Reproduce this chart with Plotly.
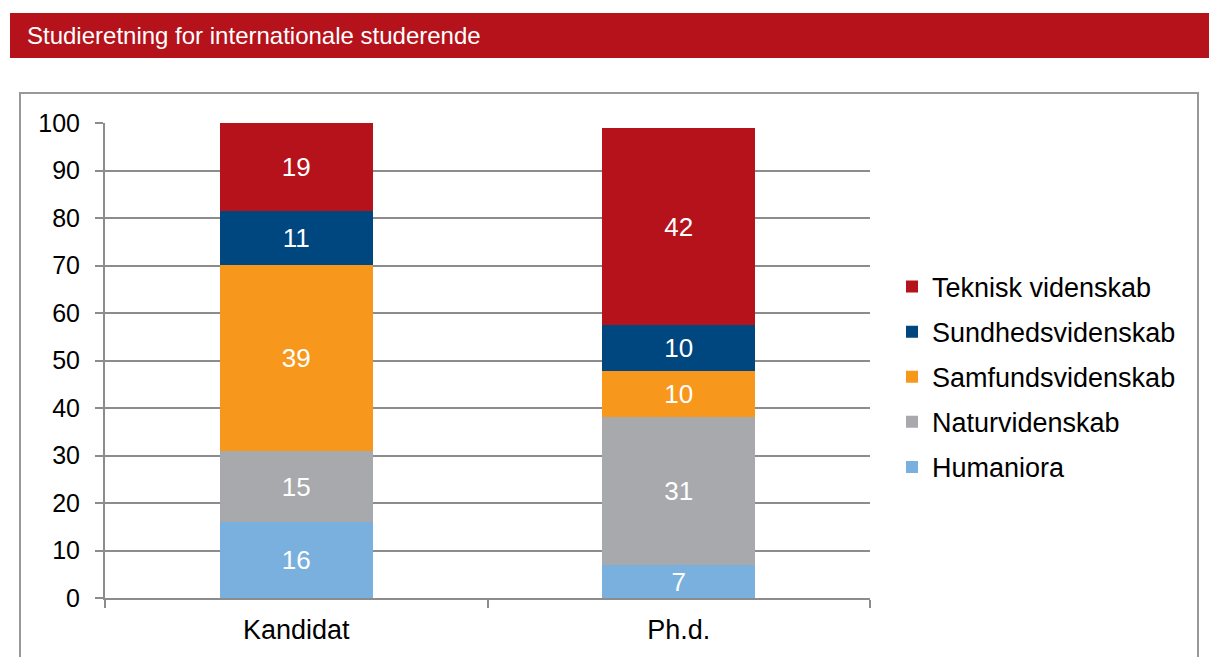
import plotly.graph_objects as go

categories = ["Kandidat", "Ph.d."]
series_names = ["Humaniora", "Naturvidenskab", "Samfundsvidenskab", "Sundhedsvidenskab", "Teknisk videnskab"]
humaniora = [16.0, 6.9]
naturvidenskab = [14.9, 31.3]
samfundsvidenskab = [39.3, 9.6]
sundhedsvidenskab = [11.2, 9.6]
teknisk = [18.6, 41.6]
series_values = [humaniora, naturvidenskab, samfundsvidenskab, sundhedsvidenskab, teknisk]
colors = ["#7AB0DD", "#A7A9AC", "#F7981D", "#00467F", "#B5121B"]
y_ticks = [0, 10, 20, 30, 40, 50, 60, 70, 80, 90, 100]
title_text = "Studieretning for internationale studerende"

W, H = 1209, 657
L, R, T, B = 105, 870, 123, 598
FONT = "Liberation Sans, Arial, sans-serif"


def px(x):
    return (x - L) / (R - L)


def py(y):
    return (B - y) / (B - T)


fig = go.Figure()
for i, (name, vals, col) in enumerate(zip(series_names, series_values, colors)):
    fig.add_trace(go.Bar(
        x=categories, y=vals, name=name, legendgroup=name,
        legendrank=len(series_names) - i,
        marker=dict(color=col, line=dict(width=0)),
        texttemplate="%{y:.0f}", textposition="inside", textangle=0,
        insidetextanchor="middle", constraintext="none",
        textfont=dict(color="white", size=26, family=FONT),
        hoverinfo="skip",
    ))

fig.update_layout(
    width=W, height=H,
    margin=dict(l=L, r=W - R, t=T, b=H - B, pad=0),
    barmode="stack", bargap=0.6,
    paper_bgcolor="white", plot_bgcolor="white",
    font=dict(family=FONT, size=25, color="black"),
    showlegend=True,
    legend=dict(
        x=px(892), y=py(377), xanchor="left", yanchor="middle",
        traceorder="grouped", tracegroupgap=7,
        font=dict(size=27, family=FONT, color="black"),
        bgcolor="rgba(0,0,0,0)", borderwidth=0,
    ),
    xaxis=dict(
        type="category", tickson="boundaries", ticks="outside", ticklen=8,
        tickcolor="#8c8c8c", tickwidth=2, showline=True, linecolor="#8c8c8c",
        linewidth=2, showgrid=False, tickfont=dict(size=27, family=FONT),
        ticklabelstandoff=7,
    ),
    yaxis=dict(
        range=[0, 100], tickvals=y_ticks, ticks="outside", ticklen=8,
        tickcolor="#8c8c8c", tickwidth=2, showline=True, linecolor="#8c8c8c",
        linewidth=2, showgrid=True, gridcolor="#8c8c8c", gridwidth=2,
        zeroline=False, tickfont=dict(size=25, family=FONT),
        ticklabelstandoff=10,
    ),
    shapes=[
        dict(type="rect", xref="paper", yref="paper",
             x0=px(10), x1=px(1215), y0=py(58), y1=py(13),
             fillcolor="#B5121B", line=dict(width=0), layer="below"),
        dict(type="rect", xref="paper", yref="paper",
             x0=px(20), x1=px(1198), y0=py(690), y1=py(93),
             fillcolor="rgba(0,0,0,0)", line=dict(color="#999999", width=2),
             layer="below"),
    ],
    annotations=[
        dict(text=title_text, xref="paper", yref="paper",
             x=px(25), y=py(36), xanchor="left", yanchor="middle",
             showarrow=False, font=dict(color="white", size=24, family=FONT)),
    ],
)

fig.write_html(
    "out.html",
    config={"displayModeBar": False},
    post_script="document.body.style.margin='0';document.body.style.overflow='hidden';",
)
